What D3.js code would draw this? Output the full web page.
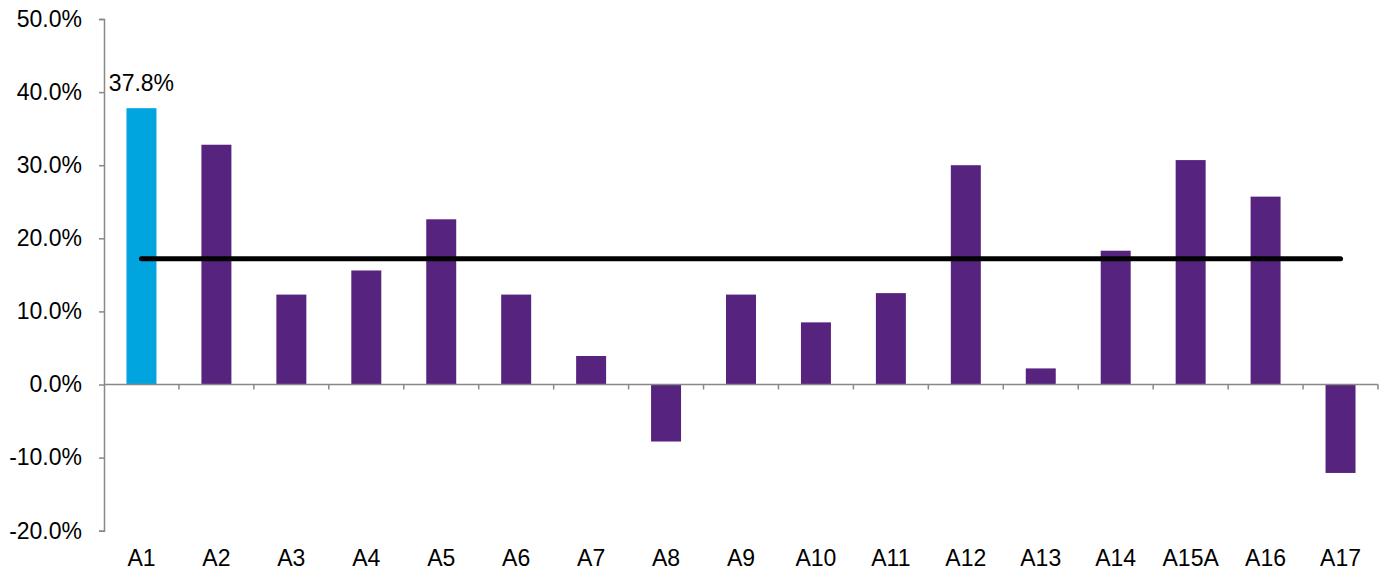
<!DOCTYPE html>
<html>
<head>
<meta charset="utf-8">
<script src="https://cdn.jsdelivr.net/npm/d3@7"></script>
<style>
  body { margin: 0; background: #fff; }
  svg { display: block; }
  text { font-family: "Liberation Sans", Arial, sans-serif; fill: #000; }
</style>
</head>
<body>
<svg id="chart" width="1381" height="572"></svg>
<script>
const categories = ["A1","A2","A3","A4","A5","A6","A7","A8","A9","A10","A11","A12","A13","A14","A15A","A16","A17"];
const values = [37.8, 32.8, 12.3, 15.6, 22.6, 12.3, 3.9, -7.8, 12.3, 8.5, 12.5, 30.0, 2.2, 18.3, 30.7, 25.7, -12.1];
const averageValue = 17.2;
const highlighted = ["A1"];
const yTicks = [-20, -10, 0, 10, 20, 30, 40, 50];

const svg = d3.select("#chart");
const plotLeft = 104, plotRight = 1378, plotTop = 19, plotBottom = 530.7;
const fontSize = "23px";

const x = d3.scaleBand().domain(categories).range([plotLeft, plotRight]).paddingInner(0.6).paddingOuter(0.3);
const y = d3.scaleLinear().domain([-20, 50]).range([plotBottom, plotTop]);

// bars
svg.append("g").selectAll("rect").data(categories).join("rect")
  .attr("x", d => x(d))
  .attr("width", x.bandwidth())
  .attr("y", (d, i) => y(Math.max(0, values[i])))
  .attr("height", (d, i) => Math.abs(y(values[i]) - y(0)))
  .attr("fill", d => highlighted.includes(d) ? "#00A5DF" : "#56237E");

// y axis
const yAxis = svg.append("g").attr("transform", `translate(${plotLeft},0)`)
  .call(d3.axisLeft(y).tickValues(yTicks).tickSize(5).tickPadding(17).tickFormat(d => d.toFixed(1) + "%"));
yAxis.select(".domain").attr("stroke", "#888").attr("stroke-width", 1.5);
yAxis.selectAll(".tick line").attr("stroke", "#888").attr("stroke-width", 1.5);
yAxis.selectAll(".tick text").style("font-size", fontSize).attr("fill", "#000")
  .style("font-family", "'Liberation Sans', Arial, sans-serif");

// x axis line at zero with boundary ticks
const step = x.step();
const boundaries = d3.range(1, categories.length + 1).map(i => plotLeft + i * step);
const xg = svg.append("g");
xg.append("line").attr("x1", plotLeft).attr("x2", plotRight).attr("y1", y(0)).attr("y2", y(0))
  .attr("stroke", "#888").attr("stroke-width", 1.5);
xg.selectAll("line.tk").data(boundaries).join("line").attr("class", "tk")
  .attr("x1", d => d).attr("x2", d => d).attr("y1", y(0)).attr("y2", y(0) + 5)
  .attr("stroke", "#888").attr("stroke-width", 1.5);

// category labels at bottom
svg.append("g").selectAll("text").data(categories).join("text")
  .attr("x", d => x(d) + x.bandwidth() / 2)
  .attr("y", 566)
  .attr("text-anchor", "middle")
  .style("font-size", fontSize)
  .text(d => d);

// average line
svg.append("line")
  .attr("x1", x(categories[0]) + x.bandwidth() / 2)
  .attr("x2", x(categories[categories.length - 1]) + x.bandwidth() / 2)
  .attr("y1", y(averageValue)).attr("y2", y(averageValue))
  .attr("stroke", "#000").attr("stroke-width", 5).attr("stroke-linecap", "round");

// data label
highlighted.forEach(c => {
  const i = categories.indexOf(c);
  svg.append("text")
    .attr("x", x(c) + x.bandwidth() / 2)
    .attr("y", y(values[i]) - 17)
    .attr("text-anchor", "middle")
    .style("font-size", fontSize)
    .text(values[i].toFixed(1) + "%");
});
</script>
</body>
</html>
